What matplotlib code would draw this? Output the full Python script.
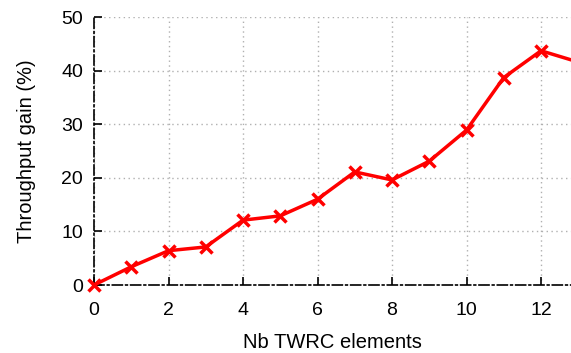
import matplotlib
matplotlib.use("Agg")
from matplotlib import pyplot as plt

# Throughput gain vs number of TWRC elements
nb_elements = [0, 1, 2, 3, 4, 5, 6, 7, 8, 9, 10, 11, 12, 13]
gain = [0.0, 3.4, 6.4, 7.1, 12.1, 12.9, 16.0, 21.1, 19.6, 23.1, 28.9, 38.7, 43.7, 41.6]
x_ticks = [0, 2, 4, 6, 8, 10, 12]
y_ticks = [0, 10, 20, 30, 40, 50]

plt.rcParams['font.family'] = ['Liberation Sans', 'DejaVu Sans']
plt.rcParams['font.size'] = 14

fig = plt.figure(figsize=(5.71, 3.53), dpi=100)
ax = fig.add_axes([94/571, 1-285/353, 1-94/571, (285-17)/353])

# not clipped so the marker at the origin shows whole, like the original
ax.plot(nb_elements, gain, color='#ff0000', lw=2.5, marker='x', ms=8, mew=2.5,
        clip_on=False, zorder=3)

ax.set_xlim(0, 477/37.25)
ax.set_ylim(0, 50)
ax.set_xticks(x_ticks)
ax.set_yticks(y_ticks)
ax.grid(True, color='#b0b0b0', linestyle=(0, (1, 2.5)), lw=1)

for side in ['top', 'right']:
    ax.spines[side].set_visible(False)
for side in ['left', 'bottom']:
    ax.spines[side].set_linestyle((0, (6, 2, 1, 2)))
    ax.spines[side].set_linewidth(1.2)
    ax.spines[side].set_zorder(2)

ax.tick_params(direction='in', length=6, width=1.2)
ax.tick_params(axis='x', pad=12)
ax.tick_params(axis='y', pad=8)
ax.set_xlabel('Nb TWRC elements', labelpad=10, fontsize=14.5)
ax.set_ylabel('Throughput gain (%)', labelpad=18, fontsize=14.5)

fig.savefig('out.png', dpi=100)
